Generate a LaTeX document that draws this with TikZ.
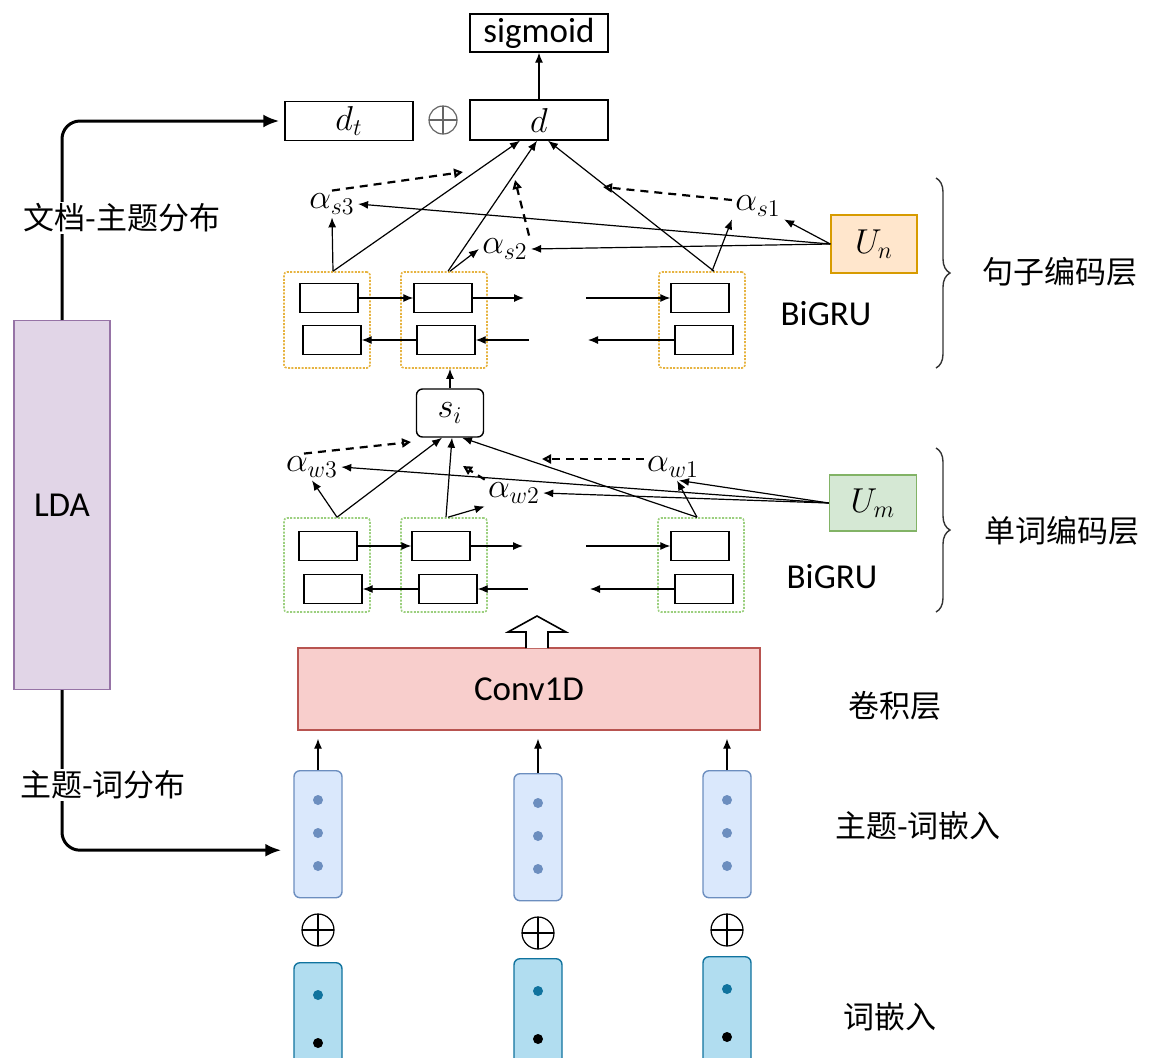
\documentclass[tikz,border=0pt]{standalone}
\usepackage{fontspec}
\setsansfont{Carlito}
\newfontfamily\cjk{Noto Sans CJK SC}
\usepackage{tikz}
\usetikzlibrary{positioning}
\usetikzlibrary{arrows.meta}
\usetikzlibrary{calc}
\usetikzlibrary{decorations.pathreplacing}
\usepackage{xcolor}
\DeclareMathSizes{16}{16}{13}{11}

\definecolor{ldafill}{HTML}{E1D5E7}
\definecolor{ldadraw}{HTML}{9673A6}
\definecolor{convfill}{HTML}{F8CECC}
\definecolor{convdraw}{HTML}{B85450}
\definecolor{topicfill}{HTML}{DAE8FC}
\definecolor{topicdraw}{HTML}{6C8EBF}
\definecolor{wordfill}{HTML}{B1DDF0}
\definecolor{worddraw}{HTML}{10739E}
\definecolor{umfill}{HTML}{D5E8D4}
\definecolor{umdraw}{HTML}{82B366}
\definecolor{unfill}{HTML}{FFE6CC}
\definecolor{undraw}{HTML}{D79B00}
\definecolor{sentcell}{HTML}{E6B340}
\definecolor{wordcell}{HTML}{9BCF7E}

\begin{document}
\begin{tikzpicture}[
  x=0.5pt, y=-0.5pt,
  sans/.style={font=\sffamily\fontsize{17.5}{20}\selectfont},
  zh/.style={font=\cjk\fontsize{15.5}{18}\selectfont, inner sep=1pt},
  mathlbl/.style={font=\fontsize{16}{18}\selectfont, inner sep=1.5pt},
  arr/.style={-{Latex[length=5pt,width=4pt]}, line width=0.6pt},
  attn/.style={line width=1.1pt, dash pattern=on 4pt off 3pt, -{Triangle[open,length=4.5pt,width=4.5pt]}},
  thickarr/.style={-{Latex[length=8pt,width=6.5pt]}, line width=1.5pt, rounded corners=9pt},
  box/.style={draw, line width=0.7pt, inner sep=0pt},
  gru/.style={draw, line width=0.7pt, minimum width=29pt, minimum height=14.5pt, inner sep=0pt},
  scellbox/.style={draw=sentcell, line width=0.8pt, dash pattern=on 1pt off 0.7pt, minimum width=43pt, minimum height=48pt, rounded corners=1.5pt},
  wcellbox/.style={draw=wordcell, line width=0.8pt, dash pattern=on 1pt off 0.7pt, minimum width=43pt, minimum height=47pt, rounded corners=1.5pt},
  topicbox/.style={draw=topicdraw, fill=topicfill, line width=0.7pt, rounded corners=3pt, minimum width=24pt, minimum height=63.5pt},
  wordbox/.style={draw=worddraw, fill=wordfill, line width=0.7pt, rounded corners=3pt, minimum width=24pt, minimum height=60pt},
  plusnode/.style={circle, draw, line width=0.6pt, minimum size=16pt, inner sep=0pt,
    path picture={\draw[line width=0.6pt] (path picture bounding box.north) -- (path picture bounding box.south)
      (path picture bounding box.west) -- (path picture bounding box.east);}},
  dotnode/.style={circle, inner sep=0pt, minimum size=5pt}
]
\clip (0,0) rectangle (1163,1057);

% Output part
\node[box, sans, minimum width=69pt, minimum height=19pt] (sig) at (539,33) {sigmoid};
\node[box, mathlbl, minimum width=69pt, minimum height=20pt, inner sep=0pt] (d) at (539,120) {$d$};
\node[box, mathlbl, minimum width=64pt, minimum height=19.5pt, inner sep=0pt] (dt) at (349,121) {$d_t$};
\node[plusnode, draw=black!60, minimum size=14pt] (dplus) at (443,120) {};
\draw[arr] (d.north) -- (sig.south);

% LDA
\node[box, draw=ldadraw, fill=ldafill, sans, minimum width=48pt, minimum height=184.5pt] (lda) at (62,505) {LDA};
\draw[thickarr, shorten >=2.5pt] (lda.north) |- (dt.west);
\node[zh, fill=white] (doctopic) at (122,218) {文档-主题分布};

% Sentence encoder
\node[scellbox] (sc1) at (327,320) {};
\node[scellbox] (sc2) at (444,320) {};
\node[scellbox] (sc3) at (702,320) {};
\node[gru] (sf1) at (329,298) {};
\node[gru] (sb1) at (332,340) {};
\node[gru] (sf2) at (443,298) {};
\node[gru] (sb2) at (446,340) {};
\node[gru] (sf3) at (700,298) {};
\node[gru] (sb3) at (704,340) {};
\coordinate (sfgap1) at (524,298);
\coordinate (sfgap2) at (586,298);
\coordinate (sbgap1) at (529,340);
\coordinate (sbgap2) at (588,340);
\draw[arr] (sf1.east) -- (sf2.west);
\draw[arr] (sf2.east) -- (sfgap1);
\draw[arr] (sfgap2) -- (sf3.west);
\draw[arr] (sb2.west) -- (sb1.east);
\draw[arr] (sbgap1) -- (sb2.east);
\draw[arr] (sb3.west) -- (sbgap2);
\node[sans] (sgru) at (826,314) {BiGRU};

\node[box, draw=undraw, fill=unfill, mathlbl, minimum width=43pt, minimum height=29pt] (un) at (874,244) {$U_n$};
\node[mathlbl] (as3) at (332,204) {$\alpha_{s3}$};
\node[mathlbl] (as2) at (505,249) {$\alpha_{s2}$};
\node[mathlbl] (as1) at (758,206) {$\alpha_{s1}$};
\coordinate (sctx3) at (463,172);
\coordinate (sctx2) at (515,180);
\coordinate (sctx1) at (603,187);

\draw[arr] ([xshift=3pt]sc1.north) -- (as3.south);
\draw[arr] ([xshift=3pt]sc2.north) -- (as2.west);
\draw[arr] ([xshift=5pt]sc3.north) -- (as1.south west);
\draw[arr] (un.west) -- (as3.east);
\draw[arr] (un.west) -- (as2.east);
\draw[arr] (un.west) -- (as1.south east);
\draw[arr] ([xshift=3pt]sc1.north) -- ([xshift=-9.5pt]d.south);
\draw[arr] ([xshift=2pt]sc2.north) -- ([xshift=-1pt]d.south);
\draw[arr] ([xshift=6pt]sc3.north) -- ([xshift=4.5pt]d.south);
\draw[attn] (as3.north) -- (sctx3);
\draw[attn] ([xshift=-1pt]as2.north east) -- (sctx2);
\draw[attn] ([yshift=3pt]as1.west) -- (sctx1);

% s_i
\node[box, rounded corners=3pt, mathlbl, minimum width=33.5pt, minimum height=24pt] (si) at (450,413) {$s_i$};
\draw[arr] (si.north) -- (si.north |- sc2.south);

% Word encoder
\node[wcellbox] (wc1) at (327,565) {};
\node[wcellbox] (wc2) at (444,565) {};
\node[wcellbox] (wc3) at (701,565) {};
\node[gru] (wf1) at (328,546) {};
\node[gru] (wb1) at (333,589) {};
\node[gru] (wf2) at (441,546) {};
\node[gru] (wb2) at (448,589) {};
\node[gru] (wf3) at (700,546) {};
\node[gru] (wb3) at (704,589) {};
\coordinate (wfgap1) at (523,546);
\coordinate (wfgap2) at (586,546);
\coordinate (wbgap1) at (528,589);
\coordinate (wbgap2) at (590,589);
\draw[arr] (wf1.east) -- (wf2.west);
\draw[arr] (wf2.east) -- (wfgap1);
\draw[arr] (wfgap2) -- (wf3.west);
\draw[arr] (wb2.west) -- (wb1.east);
\draw[arr] (wbgap1) -- (wb2.east);
\draw[arr] (wb3.west) -- (wbgap2);
\node[sans] (wgru) at (832,577) {BiGRU};

\node[box, draw=umdraw, fill=umfill, mathlbl, minimum width=43.5pt, minimum height=28pt] (um) at (873,503) {$U_m$};
\node[mathlbl] (aw3) at (312,467) {$\alpha_{w3}$};
\node[mathlbl] (aw2) at (514,493) {$\alpha_{w2}$};
\node[mathlbl] (aw1) at (673,467) {$\alpha_{w1}$};
\coordinate (wctx3) at (411,442);
\coordinate (wctx2) at (463,466);
\coordinate (wctx1) at (542,459);

\draw[arr] ([xshift=5pt]wc1.north) -- (aw3.south);
\draw[arr] ([xshift=2pt]wc2.north) -- (aw2.south west);
\draw[arr] ([xshift=-2pt]wc3.north) -- ([xshift=2pt]aw1.south);
\draw[arr] (um.west) -- (aw3.east);
\draw[arr] (um.west) -- (aw2.east);
\draw[arr] (um.west) -- ([xshift=3pt]aw1.south);
\draw[arr] ([xshift=5pt]wc1.north) -- ([xshift=-4pt]si.south);
\draw[arr] ([xshift=1pt]wc2.north) -- ([xshift=1pt]si.south);
\draw[arr] ([xshift=-2pt]wc3.north) -- ([xshift=6pt]si.south);
\draw[attn] ([xshift=-4pt]aw3.north) -- (wctx3);
\draw[attn] (aw2.north west) -- (wctx2);
\draw[attn] ([yshift=4pt]aw1.west) -- (wctx1);

% Braces
\draw[decorate, decoration={brace, amplitude=7pt}, line width=0.7pt, black!80] (936,178) -- (936,368);
\draw[decorate, decoration={brace, amplitude=7pt}, line width=0.7pt, black!80] (936,448) -- (936,612);
\node[zh] (slayer) at (1060,272) {句子编码层};
\node[zh] (wlayer) at (1062,531) {单词编码层};

% Convolution
\node[box, draw=convdraw, fill=convfill, sans, minimum width=231pt, minimum height=41pt] (conv) at (529,689) {Conv1D};
\node[zh] (convlbl) at (895,706) {卷积层};
\draw[line width=0.8pt, fill=white] (526,648) -- (526,632) -- (508,632) -- (537,616) -- (566,632) -- (548,632) -- (548,648);

% Embeddings
\foreach \name/\x/\ytop/\yword/\yplus in {e1/318/770/962/930, e2/538/773/958/933, e3/727/770/956/930}{
  \node[topicbox, anchor=north] (t\name) at (\x,\ytop) {};
  \node[dotnode, fill=topicdraw] at ($(t\name.north)+(0,30)$) {};
  \node[dotnode, fill=topicdraw] at ($(t\name.north)+(0,63)$) {};
  \node[dotnode, fill=topicdraw] at ($(t\name.north)+(0,96)$) {};
  \node[plusnode] (p\name) at (\x,\yplus) {};
  \node[wordbox, anchor=north] (w\name) at (\x,\yword) {};
  \node[dotnode, fill=worddraw] at ($(w\name.north)+(0,33)$) {};
  \node[dotnode, fill=black] at ($(w\name.north)+(0,81)$) {};
  \draw[arr, shorten >=4pt] (t\name.north) -- (t\name.north |- conv.south);
}
\node[zh] (topiclbl) at (918,826) {主题-词嵌入};
\node[zh] (wordlbl) at (890,1017) {词嵌入};

% LDA to the topic-word embeddings
\draw[thickarr, shorten >=6pt] (lda.south) |- ([yshift=-8pt]te1.west);
\node[zh, fill=white] (topicword) at (103,785) {主题-词分布};

\end{tikzpicture}
\end{document}
